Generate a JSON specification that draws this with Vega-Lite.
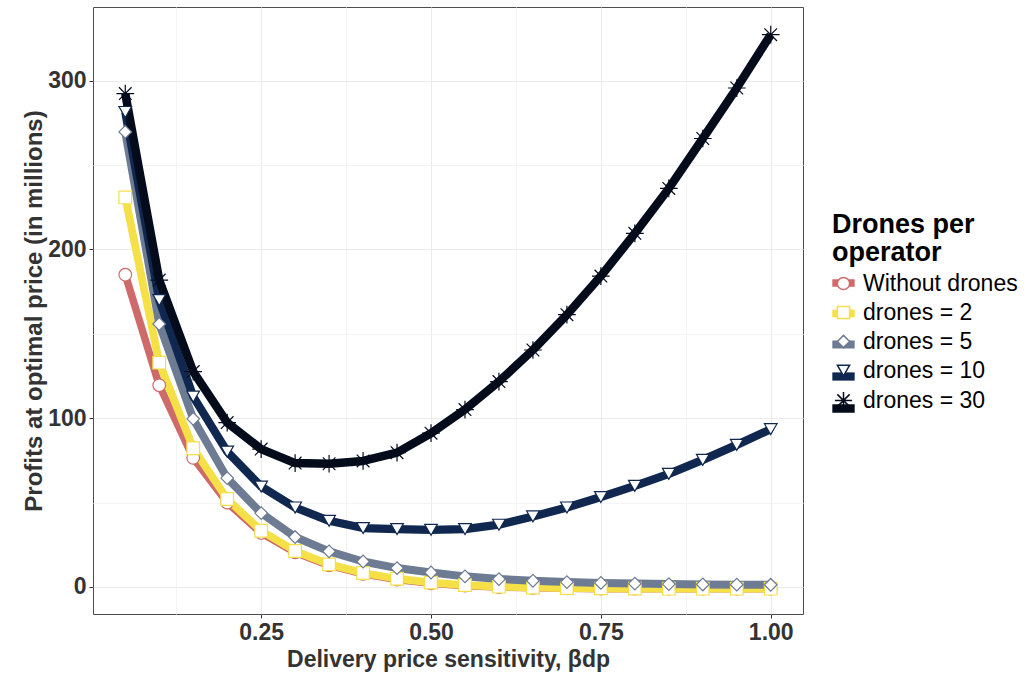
{
  "$schema": "https://vega.github.io/schema/vega-lite/v6.json",
  "autosize": {"type": "none"},
  "padding": {"left": 93, "top": 7, "right": 232, "bottom": 66},
  "width": 710,
  "height": 607,
  "background": "white",
  "config": {
    "font": "Liberation Sans",
    "view": {"stroke": "#4d4d4d", "strokeWidth": 1},
    "legend": {
      "orient": "none",
      "titleFontSize": 27,
      "titleFontWeight": "bold",
      "titleColor": "black",
      "titleLineHeight": 28,
      "titlePadding": 5,
      "labelFontSize": 23,
      "labelColor": "black",
      "labelOffset": 8,
      "rowPadding": 5
    }
  },
  "datasets": {
    "profits": [
      {"beta": 0.05, "series": "Without drones", "profit": 185},
      {"beta": 0.10, "series": "Without drones", "profit": 119.5},
      {"beta": 0.15, "series": "Without drones", "profit": 76.5},
      {"beta": 0.20, "series": "Without drones", "profit": 50},
      {"beta": 0.25, "series": "Without drones", "profit": 32},
      {"beta": 0.30, "series": "Without drones", "profit": 20.5},
      {"beta": 0.35, "series": "Without drones", "profit": 12.8},
      {"beta": 0.40, "series": "Without drones", "profit": 7.8},
      {"beta": 0.45, "series": "Without drones", "profit": 4.4},
      {"beta": 0.50, "series": "Without drones", "profit": 2.2},
      {"beta": 0.55, "series": "Without drones", "profit": 0.8},
      {"beta": 0.60, "series": "Without drones", "profit": 0},
      {"beta": 0.65, "series": "Without drones", "profit": -0.5},
      {"beta": 0.70, "series": "Without drones", "profit": -0.8},
      {"beta": 0.75, "series": "Without drones", "profit": -1},
      {"beta": 0.80, "series": "Without drones", "profit": -1},
      {"beta": 0.85, "series": "Without drones", "profit": -1},
      {"beta": 0.90, "series": "Without drones", "profit": -1},
      {"beta": 0.95, "series": "Without drones", "profit": -1},
      {"beta": 1.00, "series": "Without drones", "profit": -1},
      {"beta": 0.05, "series": "drones = 2", "profit": 230.8},
      {"beta": 0.10, "series": "drones = 2", "profit": 132.9},
      {"beta": 0.15, "series": "drones = 2", "profit": 82.2},
      {"beta": 0.20, "series": "drones = 2", "profit": 52.1},
      {"beta": 0.25, "series": "drones = 2", "profit": 33.3},
      {"beta": 0.30, "series": "drones = 2", "profit": 21.3},
      {"beta": 0.35, "series": "drones = 2", "profit": 13.4},
      {"beta": 0.40, "series": "drones = 2", "profit": 8.3},
      {"beta": 0.45, "series": "drones = 2", "profit": 4.9},
      {"beta": 0.50, "series": "drones = 2", "profit": 2.6},
      {"beta": 0.55, "series": "drones = 2", "profit": 1.1},
      {"beta": 0.60, "series": "drones = 2", "profit": 0.2},
      {"beta": 0.65, "series": "drones = 2", "profit": -0.3},
      {"beta": 0.70, "series": "drones = 2", "profit": -0.6},
      {"beta": 0.75, "series": "drones = 2", "profit": -0.8},
      {"beta": 0.80, "series": "drones = 2", "profit": -0.9},
      {"beta": 0.85, "series": "drones = 2", "profit": -1},
      {"beta": 0.90, "series": "drones = 2", "profit": -1},
      {"beta": 0.95, "series": "drones = 2", "profit": -1},
      {"beta": 1.00, "series": "drones = 2", "profit": -1},
      {"beta": 0.05, "series": "drones = 5", "profit": 269.6},
      {"beta": 0.10, "series": "drones = 5", "profit": 155.8},
      {"beta": 0.15, "series": "drones = 5", "profit": 99.6},
      {"beta": 0.20, "series": "drones = 5", "profit": 64.5},
      {"beta": 0.25, "series": "drones = 5", "profit": 43.8},
      {"beta": 0.30, "series": "drones = 5", "profit": 29.6},
      {"beta": 0.35, "series": "drones = 5", "profit": 21.1},
      {"beta": 0.40, "series": "drones = 5", "profit": 15.1},
      {"beta": 0.45, "series": "drones = 5", "profit": 11.2},
      {"beta": 0.50, "series": "drones = 5", "profit": 8.6},
      {"beta": 0.55, "series": "drones = 5", "profit": 6.3},
      {"beta": 0.60, "series": "drones = 5", "profit": 4.7},
      {"beta": 0.65, "series": "drones = 5", "profit": 3.7},
      {"beta": 0.70, "series": "drones = 5", "profit": 2.9},
      {"beta": 0.75, "series": "drones = 5", "profit": 2.4},
      {"beta": 0.80, "series": "drones = 5", "profit": 2.0},
      {"beta": 0.85, "series": "drones = 5", "profit": 1.7},
      {"beta": 0.90, "series": "drones = 5", "profit": 1.5},
      {"beta": 0.95, "series": "drones = 5", "profit": 1.4},
      {"beta": 1.00, "series": "drones = 5", "profit": 1.3},
      {"beta": 0.05, "series": "drones = 10", "profit": 281.4},
      {"beta": 0.10, "series": "drones = 10", "profit": 170},
      {"beta": 0.15, "series": "drones = 10", "profit": 112.8},
      {"beta": 0.20, "series": "drones = 10", "profit": 80.2},
      {"beta": 0.25, "series": "drones = 10", "profit": 59.5},
      {"beta": 0.30, "series": "drones = 10", "profit": 47.1},
      {"beta": 0.35, "series": "drones = 10", "profit": 39.2},
      {"beta": 0.40, "series": "drones = 10", "profit": 34.9},
      {"beta": 0.45, "series": "drones = 10", "profit": 34.3},
      {"beta": 0.50, "series": "drones = 10", "profit": 33.9},
      {"beta": 0.55, "series": "drones = 10", "profit": 34.3},
      {"beta": 0.60, "series": "drones = 10", "profit": 36.9},
      {"beta": 0.65, "series": "drones = 10", "profit": 41.8},
      {"beta": 0.70, "series": "drones = 10", "profit": 47.1},
      {"beta": 0.75, "series": "drones = 10", "profit": 53.3},
      {"beta": 0.80, "series": "drones = 10", "profit": 59.9},
      {"beta": 0.85, "series": "drones = 10", "profit": 67.0},
      {"beta": 0.90, "series": "drones = 10", "profit": 75.3},
      {"beta": 0.95, "series": "drones = 10", "profit": 84.2},
      {"beta": 1.00, "series": "drones = 10", "profit": 93.5},
      {"beta": 0.05, "series": "drones = 30", "profit": 292.3},
      {"beta": 0.10, "series": "drones = 30", "profit": 181.8},
      {"beta": 0.15, "series": "drones = 30", "profit": 127.6},
      {"beta": 0.20, "series": "drones = 30", "profit": 97.4},
      {"beta": 0.25, "series": "drones = 30", "profit": 81.7},
      {"beta": 0.30, "series": "drones = 30", "profit": 73.4},
      {"beta": 0.35, "series": "drones = 30", "profit": 73.0},
      {"beta": 0.40, "series": "drones = 30", "profit": 74.7},
      {"beta": 0.45, "series": "drones = 30", "profit": 79.6},
      {"beta": 0.50, "series": "drones = 30", "profit": 91.1},
      {"beta": 0.55, "series": "drones = 30", "profit": 105.1},
      {"beta": 0.60, "series": "drones = 30", "profit": 121.7},
      {"beta": 0.65, "series": "drones = 30", "profit": 140.4},
      {"beta": 0.70, "series": "drones = 30", "profit": 161.3},
      {"beta": 0.75, "series": "drones = 30", "profit": 184.2},
      {"beta": 0.80, "series": "drones = 30", "profit": 209.5},
      {"beta": 0.85, "series": "drones = 30", "profit": 236.1},
      {"beta": 0.90, "series": "drones = 30", "profit": 265.7},
      {"beta": 0.95, "series": "drones = 30", "profit": 295.6},
      {"beta": 1.00, "series": "drones = 30", "profit": 327.2}
    ]
  },
  "data": {"name": "profits"},
  "encoding": {
    "x": {
      "field": "beta",
      "type": "quantitative",
      "scale": {"domain": [0.0025, 1.0475], "nice": false, "zero": false},
      "axis": {
        "title": "Delivery price sensitivity,  βdp",
        "values": [0.125, 0.25, 0.375, 0.5, 0.625, 0.75, 0.875, 1.0],
        "labelExpr": "(datum.value * 1000) % 250 === 0 ? format(datum.value, '.2f') : ''",
        "domain": false,
        "grid": true,
        "gridColor": {"condition": {"test": "(datum.value * 1000) % 250 === 0", "value": "#ebebeb"}, "value": "#f4f4f4"},
        "gridWidth": 1,
        "tickColor": "#333333",
        "tickOpacity": {"condition": {"test": "(datum.value * 1000) % 250 === 0", "value": 1}, "value": 0},
        "tickSize": 4,
        "labelFontSize": 23,
        "labelFontWeight": "bold",
        "labelColor": "#333333",
        "labelPadding": 3,
        "titleFontSize": 23,
        "titleFontWeight": "bold",
        "titleColor": "#333333",
        "titlePadding": 4
      }
    },
    "y": {
      "field": "profit",
      "type": "quantitative",
      "scale": {"domain": [-16.0, 343.6], "nice": false, "zero": false},
      "axis": {
        "title": "Profits at optimal price (in millions)",
        "values": [0, 50, 100, 150, 200, 250, 300],
        "labelExpr": "datum.value % 100 === 0 ? format(datum.value, 'd') : ''",
        "domain": false,
        "grid": true,
        "gridColor": {"condition": {"test": "datum.value % 100 === 0", "value": "#ebebeb"}, "value": "#f4f4f4"},
        "gridWidth": 1,
        "tickColor": "#333333",
        "tickOpacity": {"condition": {"test": "datum.value % 100 === 0", "value": 1}, "value": 0},
        "tickSize": 4,
        "labelFontSize": 23,
        "labelFontWeight": "bold",
        "labelColor": "#333333",
        "labelPadding": 3,
        "titleFontSize": 24,
        "titleFontWeight": "bold",
        "titleColor": "#333333",
        "titlePadding": 1
      }
    }
  },
  "layer": [
    {
      "mark": {"type": "line", "strokeCap": "butt", "strokeJoin": "round"},
      "encoding": {
        "color": {
          "field": "series",
          "type": "nominal",
          "scale": {
            "domain": ["drones = 30", "drones = 10", "drones = 5", "drones = 2", "Without drones"],
            "range": ["#040C1B", "#10284F", "#6D7B93", "#F5E047", "#CE6A69"]
          },
          "legend": {
            "title": null,
            "legendX": 735,
            "legendY": 261,
            "values": ["Without drones", "drones = 2", "drones = 5", "drones = 10", "drones = 30"],
            "symbolType": "stroke",
            "symbolSize": 500,
            "symbolStrokeWidth": 7,
            "labelExpr": "''",
            "rowPadding": -10.5
          }
        },
        "strokeWidth": {
          "field": "series",
          "type": "nominal",
          "scale": {
            "domain": ["drones = 30", "drones = 10", "drones = 5", "drones = 2", "Without drones"],
            "range": [8.5, 7.5, 6.5, 6.5, 5.5]
          },
          "legend": null
        },
        "order": {"field": "beta", "type": "quantitative"}
      }
    },
    {
      "mark": {"type": "point", "filled": false, "fill": "white", "fillOpacity": 1, "opacity": 1, "strokeWidth": 1.2, "size": 160},
      "encoding": {
        "stroke": {
          "field": "series",
          "type": "nominal",
          "scale": {
            "domain": ["Without drones", "drones = 2", "drones = 5", "drones = 10", "drones = 30"],
            "range": ["#CE6A69", "#F5E047", "#6D7B93", "#10284F", "#040C1B"]
          },
          "legend": {
            "title": ["Drones per", "operator"],
            "legendX": 739,
            "legendY": 205,
            "symbolSize": 150,
            "symbolFillColor": "white",
            "symbolStrokeWidth": 1.5
          }
        },
        "shape": {
          "field": "series",
          "type": "nominal",
          "scale": {
            "domain": ["Without drones", "drones = 2", "drones = 5", "drones = 10", "drones = 30"],
            "range": ["circle", "square", "diamond", "triangle-down", "M-1.4,0L1.4,0M0,-1.4L0,1.4M-1,-1L1,1M-1,1L1,-1"]
          },
          "legend": {
            "title": ["Drones per", "operator"],
            "legendX": 739,
            "legendY": 205,
            "symbolSize": 150,
            "symbolFillColor": "white",
            "symbolStrokeWidth": 1.5
          }
        }
      }
    }
  ]
}
